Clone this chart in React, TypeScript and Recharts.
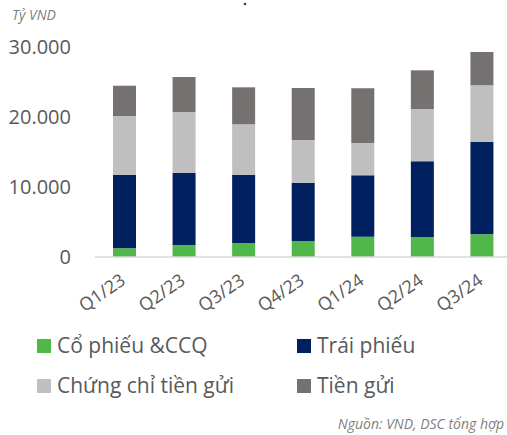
import React from 'react';
import { BarChart, Bar, XAxis, YAxis } from 'recharts';

const categories = ['Q1/23', 'Q2/23', 'Q3/23', 'Q4/23', 'Q1/24', 'Q2/24', 'Q3/24'];
const coPhieu = [1240, 1710, 2000, 2290, 2900, 2860, 3240];
const traiPhieu = [10470, 10330, 9710, 8320, 8770, 10810, 13230];
const chungChi = [8430, 8670, 7250, 6100, 4620, 7470, 8060];
const tienGui = [4330, 5000, 5280, 7430, 7810, 5530, 4760];
const yTicks = [0, 10000, 20000, 30000];

const seriesNames = ['Cổ phiếu &CCQ', 'Trái phiếu', 'Chứng chỉ tiền gửi', 'Tiền gửi'];
const seriesColors = ['#50B848', '#002060', '#BFBFBF', '#767171'];

const data = categories.map((c, i) => ({
  name: c,
  coPhieu: coPhieu[i],
  traiPhieu: traiPhieu[i],
  chungChi: chungChi[i],
  tienGui: tienGui[i],
}));

const FONT = '"Open Sans", "Noto Sans", sans-serif';
const fmt = (v: number) => String(v).replace(/\B(?=(\d{3})+(?!\d))/g, '.');

const XTick = (props: any) => {
  const { x, y, payload } = props;
  return (
    <g transform={`translate(${x + 2},${y + 18})`}>
      <text
        x={0}
        y={0}
        textAnchor="end"
        transform="rotate(-35)"
        fontSize={18}
        fontFamily={FONT}
        fill="#595959"
      >
        {payload.value}
      </text>
    </g>
  );
};

export default function App() {
  const legendPos = [
    { x: 37, y: 339 },
    { x: 297, y: 339 },
    { x: 37, y: 379 },
    { x: 297, y: 379 },
  ];
  return (
    <div
      style={{
        position: 'absolute',
        left: 0,
        top: 0,
        width: 507,
        height: 435,
        overflow: 'hidden',
        background: '#fff',
      }}
    >
      <BarChart
        width={512}
        height={330}
        data={data}
        margin={{ top: 47, right: 0, left: 0, bottom: 20 }}
      >
        <XAxis
          dataKey="name"
          interval={0}
          height={53}
          tickLine={false}
          axisLine={{ stroke: '#D9D9D9', strokeWidth: 1.5 }}
          tick={<XTick />}
        />
        <YAxis
          domain={[0, 30000]}
          ticks={yTicks}
          width={95}
          axisLine={false}
          tickLine={false}
          tickMargin={18}
          tickFormatter={fmt}
          tick={{ fontSize: 20, fill: '#595959', fontFamily: FONT }}
        />
        <Bar dataKey="coPhieu" stackId="a" barSize={23} fill={seriesColors[0]} isAnimationActive={false} />
        <Bar dataKey="traiPhieu" stackId="a" barSize={23} fill={seriesColors[1]} isAnimationActive={false} />
        <Bar dataKey="chungChi" stackId="a" barSize={23} fill={seriesColors[2]} isAnimationActive={false} />
        <Bar dataKey="tienGui" stackId="a" barSize={23} fill={seriesColors[3]} isAnimationActive={false} />
      </BarChart>
      <svg
        width={507}
        height={435}
        style={{ position: 'absolute', left: 0, top: 0, pointerEvents: 'none' }}
      >
        <text x={12} y={20} fontSize={14} fontStyle="italic" fontFamily={FONT} fill="#7F7F7F">
          Tỷ VND
        </text>
        <circle cx={245} cy={4} r={1.3} fill="#404040" />
        {seriesNames.map((n, i) => (
          <g key={n}>
            <rect x={legendPos[i].x} y={legendPos[i].y} width={14} height={14} fill={seriesColors[i]} />
            <text
              x={legendPos[i].x + 20}
              y={legendPos[i].y + 14}
              fontSize={21}
              fontFamily={FONT}
              fill="#595959"
            >
              {n}
            </text>
          </g>
        ))}
        <text
          x={504}
          y={429}
          textAnchor="end"
          fontSize={14}
          fontStyle="italic"
          fontFamily={FONT}
          fill="#7F7F7F"
        >
          Nguồn: VND, DSC tổng hợp
        </text>
      </svg>
    </div>
  );
}
